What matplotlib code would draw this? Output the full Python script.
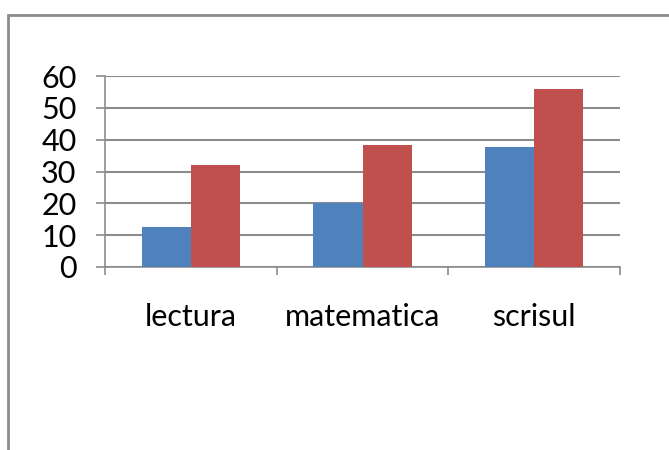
import matplotlib
matplotlib.use("Agg")
import matplotlib.pyplot as plt
import numpy as np
from matplotlib.patches import Rectangle

# data
categories = ["lectura", "matematica", "scrisul"]
series_blue = [12.6, 20.0, 37.6]
series_red = [32.0, 38.2, 55.8]
y_ticks = [0, 10, 20, 30, 40, 50, 60]

plt.rcParams['font.family'] = ['Lato', 'DejaVu Sans']

fig = plt.figure(figsize=(6.69, 4.5), dpi=100)
W, H = 669, 450
ax = fig.add_axes([105 / W, (H - 267) / H, (620 - 105) / W, (267 - 76) / H])

x = np.arange(len(categories))
bw = 49 / 171.5
ax.bar(x - bw / 2, series_blue, width=bw, color='#4F81BD', zorder=3)
ax.bar(x + bw / 2, series_red, width=bw, color='#C0504D', zorder=3)

ax.set_xlim(-0.5, len(categories) - 0.5)
ax.set_ylim(0, 60)
ax.set_yticks(y_ticks)
ax.yaxis.grid(True, color='#8c8c8c', linewidth=1.5, zorder=0)
ax.tick_params(axis='y', length=6.5, width=1.2, color='#8c8c8c', labelsize=22, pad=14)

ax.set_xticks(x)
ax.set_xticklabels(categories)
ax.tick_params(axis='x', which='major', length=0, labelsize=22, pad=26)
ax.set_xticks(np.arange(-0.5, len(categories)), minor=True)
ax.tick_params(axis='x', which='minor', length=6, width=1.2, color='#8c8c8c')

for s in ['top', 'right']:
    ax.spines[s].set_visible(False)
for s in ['left', 'bottom']:
    ax.spines[s].set_color('#8c8c8c')
    ax.spines[s].set_linewidth(1.2)

# outer chart border (runs off the right and bottom edges)
fig.patches.append(Rectangle((8 / W, -0.1), 1.2, (H - 15) / H + 0.1,
                             transform=fig.transFigure, fill=False,
                             edgecolor='#8c8c8c', linewidth=2))

fig.savefig("out.png", dpi=100)
